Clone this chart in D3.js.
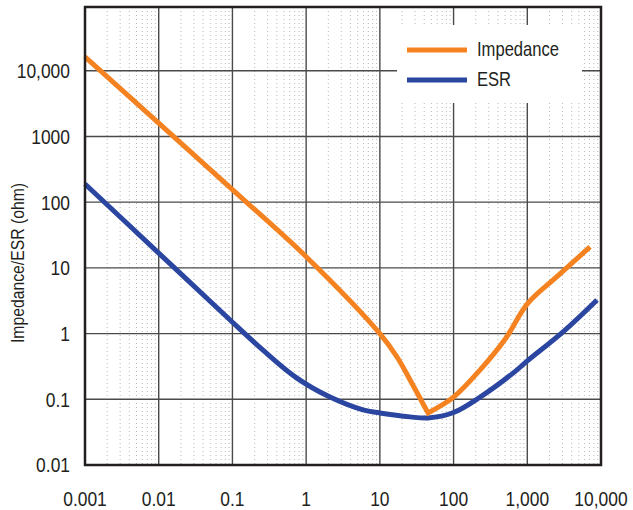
<!DOCTYPE html>
<html>
<head>
<meta charset="utf-8">
<script src="https://cdn.jsdelivr.net/npm/d3@7"></script>
<style>
  body { margin: 0; background: #fff; }
  svg text { font-family: "Liberation Sans", Arial, sans-serif; fill: #231f20; }
</style>
</head>
<body>
<svg id="chart" width="633" height="510"></svg>
<script>
/* Impedance / ESR vs frequency, log-log */
const xTicks = [0.001, 0.01, 0.1, 1, 10, 100, 1000, 10000];
const xTickLabels = ['0.001', '0.01', '0.1', '1', '10', '100', '1,000', '10,000'];
const yTicks = [0.01, 0.1, 1, 10, 100, 1000, 10000];
const yTickLabels = ['0.01', '0.1', '1', '10', '100', '1000', '10,000'];

const impFreq = [0.001, 0.01, 0.1, 1, 10, 17.1, 25.7, 45, 100, 229, 500, 1020, 2500, 7100];
const impVal  = [16200, 1600, 155, 14.8, 1.0, 0.44, 0.197, 0.062, 0.108, 0.28, 0.82, 2.9, 7.3, 20.8];

const esrFreq = [0.001, 0.01, 0.093, 0.26, 0.75, 2.11, 5.9, 10, 25.7, 45, 100, 229, 641, 1020, 3055, 8830];
const esrVal  = [189, 16.8, 1.61, 0.56, 0.21, 0.108, 0.069, 0.062, 0.054, 0.052, 0.063, 0.108, 0.25, 0.39, 1.06, 3.24];

const seriesNames = ['Impedance', 'ESR'];
const seriesColors = ['#f58220', '#2b46a0'];

const yLabel = 'Impedance/ESR (ohm)';

const svg = d3.select('#chart');
const L = 85, R = 601, T = 7, B = 465;
const SX = 0.83; // condensed look

const x = d3.scaleLog().domain([0.001, 10000]).range([L, R]);
const y = d3.scaleLog().domain([0.01, Math.pow(10, 4.97)]).range([B, T]);

// minor vertical dotted grid
const minor = [];
for (let d = -3; d < 4; d++) for (let k = 2; k <= 9; k++) minor.push(k * Math.pow(10, d));
svg.append('g').selectAll('line').data(minor).enter().append('line')
    .attr('x1', d => x(d)).attr('x2', d => x(d))
    .attr('y1', T).attr('y2', B)
    .style('stroke', '#b9b9b9').style('stroke-width', 1)
    .style('stroke-dasharray', '1,3');

// major grid
svg.append('g').selectAll('line').data(xTicks.slice(1, -1)).enter().append('line')
    .attr('x1', d => x(d)).attr('x2', d => x(d))
    .attr('y1', T).attr('y2', B)
    .style('stroke', '#4a4a4a').style('stroke-width', 1.4);
svg.append('g').selectAll('line').data(yTicks.slice(1)).enter().append('line')
    .attr('x1', L).attr('x2', R)
    .attr('y1', d => y(d)).attr('y2', d => y(d))
    .style('stroke', '#4a4a4a').style('stroke-width', 1.4);

// legend background
svg.append('rect').attr('x', 397).attr('y', 25).attr('width', 185).attr('height', 78)
    .style('fill', '#fff');

// curves
const impData = impFreq.map((f, i) => [f, impVal[i]]);
const esrData = esrFreq.map((f, i) => [f, esrVal[i]]);
const smooth = d3.line().x(d => x(d[0])).y(d => y(d[1])).curve(d3.curveCatmullRom.alpha(0.5));

svg.append('path').datum(esrData)
    .attr('d', smooth)
    .style('fill', 'none').style('stroke', seriesColors[1]).style('stroke-width', 5);

// impedance has a sharp notch at resonance: smooth each branch, join at the minimum
const iMin = d3.minIndex(impVal);
const impPath = smooth(impData.slice(0, iMin + 1)) + smooth(impData.slice(iMin)).replace(/^M/, 'L');
svg.append('path')
    .attr('d', impPath)
    .style('fill', 'none').style('stroke', seriesColors[0]).style('stroke-width', 5)
    .style('stroke-linejoin', 'miter');

// frame
svg.append('rect').attr('x', L).attr('y', T).attr('width', R - L).attr('height', B - T)
    .style('fill', 'none').style('stroke', '#231f20').style('stroke-width', 2.5);

// axes labels
svg.append('g').selectAll('text').data(xTicks).enter().append('text')
    .attr('transform', d => 'translate(' + x(d) + ',506) scale(' + SX + ',1)')
    .attr('text-anchor', 'middle').style('font-size', '21px')
    .text((d, i) => xTickLabels[i]);
svg.append('g').selectAll('text').data(yTicks).enter().append('text')
    .attr('transform', d => 'translate(70,' + y(d) + ') scale(' + SX + ',1)')
    .attr('dy', '0.35em')
    .attr('text-anchor', 'end').style('font-size', '21px')
    .text((d, i) => yTickLabels[i]);

svg.append('text')
    .attr('transform', 'translate(24,263) rotate(-90) scale(' + SX + ',1)')
    .attr('text-anchor', 'middle').style('font-size', '19px')
    .text(yLabel);

// legend
const leg = svg.append('g').selectAll('g').data(seriesNames).enter().append('g')
    .attr('transform', (d, i) => 'translate(407,' + (50 + i * 30) + ')');
leg.append('line').attr('x1', 0).attr('x2', 60).attr('y1', 0).attr('y2', 0)
    .style('stroke', (d, i) => seriesColors[i]).style('stroke-width', 5);
leg.append('text').attr('transform', 'translate(70,6) scale(' + SX + ',1)')
    .style('font-size', '20px').text(d => d);
</script>
</body>
</html>
